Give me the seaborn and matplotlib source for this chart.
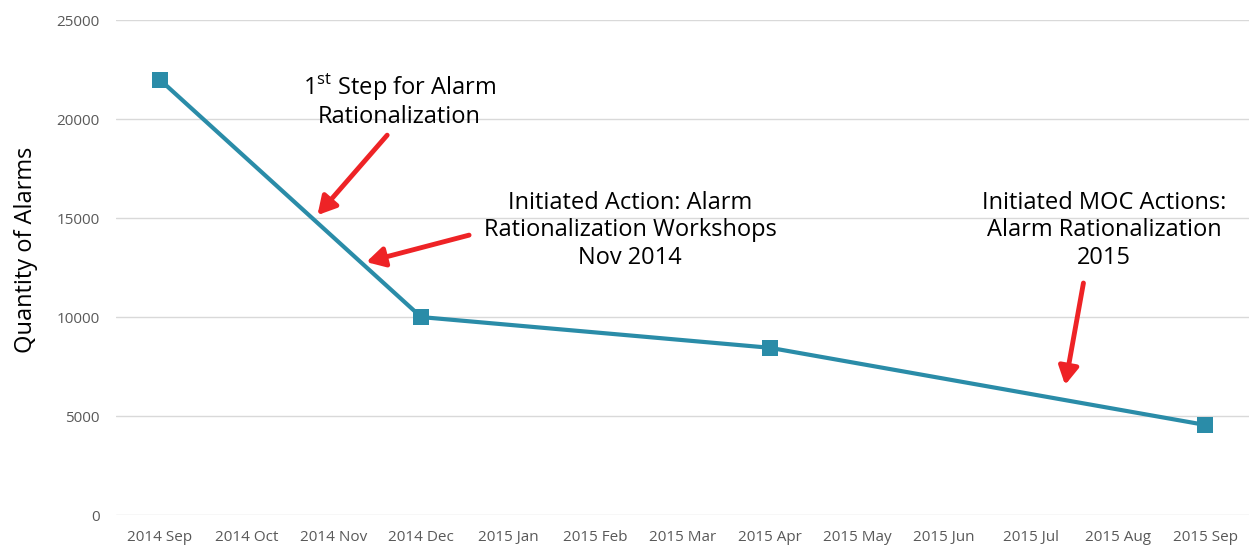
import matplotlib
matplotlib.use("Agg")
import matplotlib.pyplot as plt
import seaborn as sns
import pandas as pd

months = ['2014 Sep', '2014 Oct', '2014 Nov', '2014 Dec', '2015 Jan', '2015 Feb',
          '2015 Mar', '2015 Apr', '2015 May', '2015 Jun', '2015 Jul', '2015 Aug',
          '2015 Sep']
measured_months = ['2014 Sep', '2014 Dec', '2015 Apr', '2015 Sep']
alarms = [22000, 10000, 8450, 4550]

sns.set_theme(style="white")
plt.rcParams['font.family'] = ['Open Sans', 'DejaVu Sans']
plt.rcParams['mathtext.fontset'] = 'custom'
plt.rcParams['mathtext.rm'] = 'Open Sans'

df = pd.DataFrame({'pos': [months.index(m) for m in measured_months],
                   'alarms': alarms})

fig = plt.figure(figsize=(12.49, 5.45), dpi=100)
ax = fig.add_axes([0.093, 0.055, 0.907, 0.908])

sns.lineplot(data=df, x='pos', y='alarms', ax=ax, color='#2a8ca8', linewidth=3,
             marker='s', markersize=11, markeredgewidth=0)

ax.set_xlim(-0.5, 12.5)
ax.set_ylim(0, 25000)
ax.set_xticks(range(len(months)))
ax.set_xticklabels(months)
ax.set_yticks(range(0, 25001, 5000))
ax.tick_params(axis='both', labelsize=11, labelcolor='#595959', length=0)
ax.tick_params(axis='x', pad=11)
ax.tick_params(axis='y', pad=12)
ax.yaxis.grid(True, color='#d9d9d9', linewidth=1)
ax.set_axisbelow(True)
for s in ax.spines.values():
    s.set_visible(False)
ax.set_xlabel('')
ax.set_ylabel('Quantity of Alarms', fontsize=17, color='black')
ax.yaxis.set_label_coords(-0.069, 0.535)

txt = dict(ha='center', va='center', fontsize=17, color='black', linespacing=1.2)
ax.text(2.75, 20960, '1$^{\\mathrm{st}}$ Step for Alarm\nRationalization', **txt)
ax.text(5.40, 14390, 'Initiated Action: Alarm\nRationalization Workshops\nNov 2014', **txt)
ax.text(10.84, 14390, 'Initiated MOC Actions:\nAlarm Rationalization\n2015', **txt)

arrow = dict(arrowstyle='-|>,head_length=0.9,head_width=0.5', color='#ee2326', lw=3.5,
             shrinkA=0, shrinkB=0)
ax.annotate('', xy=(1.81, 15150), xytext=(2.61, 19190), arrowprops=arrow)
ax.annotate('', xy=(2.37, 12780), xytext=(3.55, 14140), arrowprops=arrow)
ax.annotate('', xy=(10.39, 6570), xytext=(10.60, 11720), arrowprops=arrow)

plt.savefig('out.png', dpi=100)
